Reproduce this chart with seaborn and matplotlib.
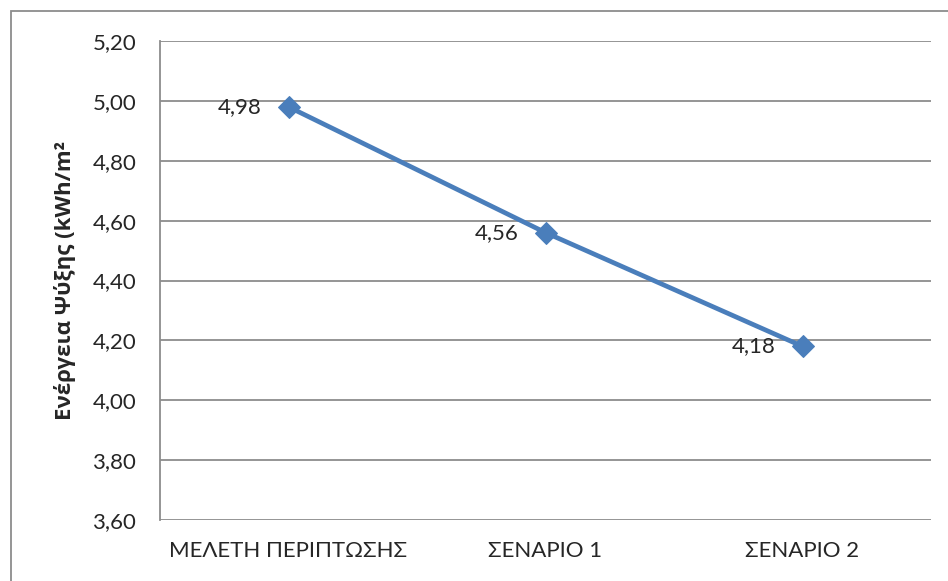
import matplotlib
matplotlib.use("Agg")
import matplotlib.pyplot as plt
import seaborn as sns
import pandas as pd
from matplotlib.patches import Rectangle

categories = ["ΜΕΛΕΤΗ ΠΕΡΙΠΤΩΣΗΣ", "ΣΕΝΑΡΙΟ 1", "ΣΕΝΑΡΙΟ 2"]
values = [4.98, 4.56, 4.18]
yticks = [3.60, 3.80, 4.00, 4.20, 4.40, 4.60, 4.80, 5.00, 5.20]
ylabel = "Ενέργεια Ψύξης (kWh/m²"

sns.set_theme(style="white")
plt.rcParams['font.family'] = ['Lato', 'DejaVu Sans']

W, H = 948, 581
fig = plt.figure(figsize=(W / 100, H / 100), dpi=100)
ax = fig.add_axes([160 / W, 1 - 520 / H, (931 - 160) / W, (520 - 41) / H])

df = pd.DataFrame({"cat": categories, "val": values})
color = "#4A7EBB"
sns.lineplot(data=df, x="cat", y="val", ax=ax, color=color, linewidth=3.4,
             marker="D", markersize=11.5, markeredgecolor=color, sort=False)

ax.set_xlim(-0.5, 2.5)
ax.set_ylim(3.60, 5.20)
ax.set_yticks(yticks)
ax.set_yticklabels([f"{v:.2f}".replace(".", ",") for v in yticks], fontsize=16)
ax.tick_params(axis="x", labelsize=16, pad=15, length=0)
ax.tick_params(axis="y", length=0, pad=17)
ax.yaxis.grid(True, color="#8c8c8c", linewidth=1.3)
ax.set_axisbelow(True)
for s in ["top", "right", "bottom"]:
    ax.spines[s].set_visible(False)
ax.spines["left"].set_color("#8c8c8c")
ax.spines["left"].set_linewidth(1.3)
ax.set_xlabel("")
ax.set_ylabel(ylabel, fontsize=16, fontweight="bold", labelpad=12,
              family=['Open Sans', 'DejaVu Sans'])

for i, v in enumerate(values):
    ax.annotate(f"{v:.2f}".replace(".", ","), (i, v), xytext=(-19, 0),
                textcoords="offset points", ha="right", va="center", fontsize=16)

fig.patches.append(Rectangle((11 / W, -0.1), 1.2, 1 - 11 / H + 0.1,
                             transform=fig.transFigure, fill=False,
                             edgecolor="#8c8c8c", linewidth=1.3))

fig.savefig("out.png", dpi=100)
